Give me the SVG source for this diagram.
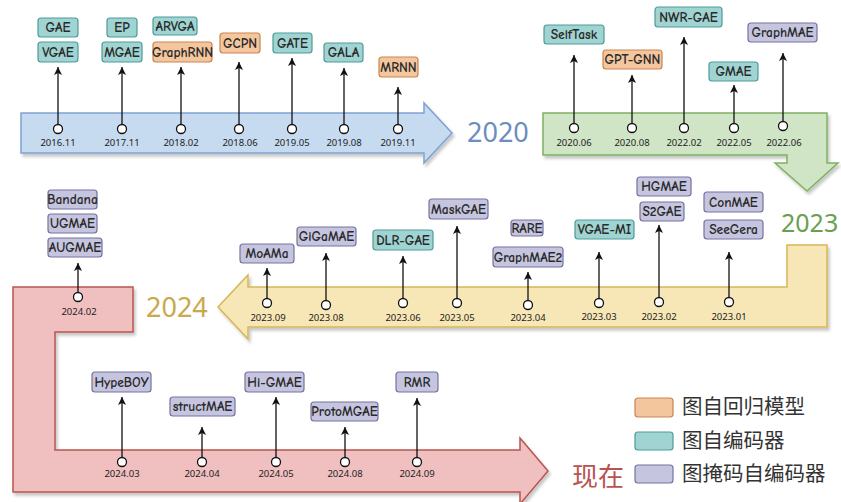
<svg xmlns="http://www.w3.org/2000/svg" width="841" height="502" viewBox="0 0 841 502">
<defs>
<style>
.lbl{font-family:'Comic Sans MS','Comic Neue','Noto Sans','DejaVu Sans',sans-serif;font-size:13.5px;font-weight:bold;fill:#2a2a2a;text-anchor:middle;dominant-baseline:central}
.date{font-family:'Noto Sans','DejaVu Sans',sans-serif;font-size:9.5px;fill:#222;text-anchor:middle}
.teal{fill:#9fd4d2;stroke:#4e9c9a;stroke-width:1.2}
.orange{fill:#f4c69e;stroke:#c98550;stroke-width:1.2}
.purple{fill:#c6c5e0;stroke:#76729f;stroke-width:1.2}
.dot{fill:#fff;stroke:#111;stroke-width:1.3}
.conn line{stroke:#111;stroke-width:1.3;marker-end:url(#ah)}
.year{font-family:'Noto Sans','DejaVu Sans',sans-serif}
.leg{font-family:'Noto Sans CJK SC','Noto Sans',sans-serif;font-size:20.5px;fill:#333}
</style>
<marker id="ah" viewBox="0 0 10 10" refX="10" refY="5" markerWidth="8" markerHeight="8" markerUnits="userSpaceOnUse" orient="auto">
<path d="M0,0 L10,5 L0,10 L2.5,5 z" fill="#111"/>
</marker>
<filter id="sh" x="-5%" y="-10%" width="115%" height="130%">
<feDropShadow dx="2" dy="3" stdDeviation="1.5" flood-color="#000" flood-opacity="0.22"/>
</filter>
</defs>

<g id="timeline-shapes">
<polygon id="band-2016" points="21,113 424,113 424,103 452,133 424,163 424,153 21,153" fill="#c6daf0" stroke="#7fa2cf" stroke-width="1.5" filter="url(#sh)"/>
<polygon id="band-2020" points="543,113 827,113 827,163 838,163 807,191 775,163 787,163 787,155 543,155" fill="#d0e5c6" stroke="#7fb062" stroke-width="1.5" filter="url(#sh)"/>
<polygon id="band-2023" points="218,307 248,275 248,287 787,287 787,245 827,245 827,327 248,327 248,339" fill="#f8e7b6" stroke="#d6b656" stroke-width="1.5" filter="url(#sh)"/>
<polygon id="band-2024" points="13,287 133,287 133,332 55,332 55,450 520,450 520,438 548,471 520,504 520,492 13,492" fill="#f0c0c1" stroke="#b85450" stroke-width="1.5" filter="url(#sh)"/>
</g>

<g id="years">
<text class="year" x="467" y="142" font-size="27" fill="#6c8ebf">2020</text>
<text class="year" x="781" y="232" font-size="25" fill="#6aa050">2023</text>
<text class="year" x="146" y="317" font-size="27" fill="#c9a84e">2024</text>
<text x="572" y="486" font-size="26" fill="#b85450" font-family="'Noto Sans CJK SC',sans-serif">现在</text>
</g>

<g id="connectors" class="conn">
<line x1="58" y1="124" x2="58" y2="67"/>
<line x1="122" y1="124" x2="122" y2="67"/>
<line x1="181" y1="124" x2="181" y2="67"/>
<line x1="239" y1="124" x2="239" y2="62"/>
<line x1="292" y1="124" x2="292" y2="58"/>
<line x1="344" y1="124" x2="344" y2="68"/>
<line x1="398" y1="124" x2="398" y2="87"/>
<line x1="574" y1="123" x2="574" y2="55"/>
<line x1="632" y1="123" x2="632" y2="75"/>
<line x1="684" y1="123" x2="684" y2="37"/>
<line x1="734" y1="123" x2="734" y2="85"/>
<line x1="783" y1="121" x2="783" y2="53"/>
<line x1="78" y1="292" x2="78" y2="263"/>
<line x1="267" y1="298" x2="267" y2="268"/>
<line x1="326" y1="300" x2="326" y2="253"/>
<line x1="403" y1="298" x2="403" y2="256"/>
<line x1="457" y1="298" x2="457" y2="226"/>
<line x1="528" y1="300" x2="528" y2="272"/>
<line x1="599" y1="298" x2="599" y2="252"/>
<line x1="659" y1="297" x2="659" y2="225"/>
<line x1="729" y1="297" x2="729" y2="252"/>
<line x1="122" y1="457" x2="122" y2="397"/>
<line x1="202" y1="457" x2="202" y2="427"/>
<line x1="276" y1="457" x2="276" y2="397"/>
<line x1="345" y1="457" x2="345" y2="427"/>
<line x1="417" y1="457" x2="417" y2="398"/>
</g>

<g id="dots">
<circle class="dot" cx="58" cy="129" r="4.5"/><circle class="dot" cx="122" cy="129" r="4.5"/><circle class="dot" cx="181" cy="129" r="4.5"/><circle class="dot" cx="239" cy="129" r="4.5"/><circle class="dot" cx="292" cy="129" r="4.5"/><circle class="dot" cx="344" cy="129" r="4.5"/><circle class="dot" cx="398" cy="129" r="4.5"/>
<circle class="dot" cx="574" cy="128" r="4.5"/><circle class="dot" cx="632" cy="128" r="4.5"/><circle class="dot" cx="684" cy="128" r="4.5"/><circle class="dot" cx="734" cy="128" r="4.5"/><circle class="dot" cx="783" cy="126" r="4.5"/>
<circle class="dot" cx="78" cy="297" r="4.5"/><circle class="dot" cx="267" cy="303" r="4.5"/><circle class="dot" cx="326" cy="305" r="4.5"/><circle class="dot" cx="403" cy="303" r="4.5"/><circle class="dot" cx="457" cy="303" r="4.5"/><circle class="dot" cx="528" cy="305" r="4.5"/><circle class="dot" cx="599" cy="303" r="4.5"/><circle class="dot" cx="659" cy="302" r="4.5"/><circle class="dot" cx="729" cy="302" r="4.5"/>
<circle class="dot" cx="122" cy="462" r="4.5"/><circle class="dot" cx="202" cy="462" r="4.5"/><circle class="dot" cx="276" cy="462" r="4.5"/><circle class="dot" cx="345" cy="462" r="4.5"/><circle class="dot" cx="417" cy="462" r="4.5"/>
</g>

<g id="dates">
<text class="date" x="58" y="146">2016.11</text><text class="date" x="122" y="146">2017.11</text><text class="date" x="181" y="146">2018.02</text><text class="date" x="240" y="146">2018.06</text><text class="date" x="292" y="146">2019.05</text><text class="date" x="344" y="146">2019.08</text><text class="date" x="398" y="146">2019.11</text>
<text class="date" x="574" y="146">2020.06</text><text class="date" x="632" y="146">2020.08</text><text class="date" x="684" y="146">2022.02</text><text class="date" x="734" y="146">2022.05</text><text class="date" x="784" y="146">2022.06</text>
<text class="date" x="79" y="315">2024.02</text><text class="date" x="268" y="321">2023.09</text><text class="date" x="326" y="321">2023.08</text><text class="date" x="403" y="321">2023.06</text><text class="date" x="457" y="321">2023.05</text><text class="date" x="528" y="321">2023.04</text><text class="date" x="599" y="320">2023.03</text><text class="date" x="659" y="320">2023.02</text><text class="date" x="729" y="320">2023.01</text>
<text class="date" x="122" y="477">2024.03</text><text class="date" x="202" y="477">2024.04</text><text class="date" x="276" y="477">2024.05</text><text class="date" x="345" y="477">2024.08</text><text class="date" x="417" y="477">2024.09</text>
</g>

<g id="n-GAE"><rect class="teal" x="38" y="18" width="40" height="19" rx="3"/><text class="lbl" x="58" y="27.5">GAE</text></g>
<g id="n-VGAE"><rect class="teal" x="38" y="42" width="40" height="20" rx="3"/><text class="lbl" x="58" y="52">VGAE</text></g>
<g id="n-EP"><rect class="teal" x="107" y="18" width="30" height="19" rx="3"/><text class="lbl" x="122" y="27.5">EP</text></g>
<g id="n-MGAE"><rect class="teal" x="102" y="42" width="40" height="20" rx="3"/><text class="lbl" x="122" y="52">MGAE</text></g>
<g id="n-ARVGA"><rect class="teal" x="153" y="17" width="44" height="18" rx="3"/><text class="lbl" x="175" y="26">ARVGA</text></g>
<g id="n-GraphRNN"><rect class="orange" x="153" y="42" width="59" height="20" rx="3"/><text class="lbl" x="182.5" y="52">GraphRNN</text></g>
<g id="n-GCPN"><rect class="orange" x="220" y="33" width="40" height="20" rx="3"/><text class="lbl" x="240" y="43">GCPN</text></g>
<g id="n-GATE"><rect class="teal" x="273" y="33" width="39" height="20" rx="3"/><text class="lbl" x="292.5" y="43">GATE</text></g>
<g id="n-GALA"><rect class="teal" x="324" y="43" width="39" height="19" rx="3"/><text class="lbl" x="343.5" y="52.5">GALA</text></g>
<g id="n-MRNN"><rect class="orange" x="379" y="57" width="39" height="20" rx="3"/><text class="lbl" x="398.5" y="67">MRNN</text></g>

<g id="n-SelfTask"><rect class="teal" x="544" y="25" width="60" height="19" rx="3"/><text class="lbl" x="574" y="34.5">SelfTask</text></g>
<g id="n-GPT-GNN"><rect class="orange" x="603" y="50" width="59" height="19" rx="3"/><text class="lbl" x="632.5" y="59.5">GPT-GNN</text></g>
<g id="n-NWR-GAE"><rect class="teal" x="655" y="7" width="67" height="20" rx="3"/><text class="lbl" x="688.5" y="17">NWR-GAE</text></g>
<g id="n-GMAE"><rect class="teal" x="709" y="62" width="49" height="19" rx="3"/><text class="lbl" x="733.5" y="71.5">GMAE</text></g>
<g id="n-GraphMAE"><rect class="purple" x="748" y="23" width="69" height="19" rx="3"/><text class="lbl" x="782.5" y="32.5">GraphMAE</text></g>

<g id="n-Bandana"><rect class="purple" x="48" y="190" width="49" height="19" rx="3"/><text class="lbl" x="72.5" y="199.5">Bandana</text></g>
<g id="n-UGMAE"><rect class="purple" x="48" y="214" width="49" height="19" rx="3"/><text class="lbl" x="72.5" y="223.5">UGMAE</text></g>
<g id="n-AUGMAE"><rect class="purple" x="48" y="238" width="54" height="19" rx="3"/><text class="lbl" x="75" y="247.5">AUGMAE</text></g>
<g id="n-MoAMa"><rect class="purple" x="240" y="244" width="54" height="19" rx="3"/><text class="lbl" x="267" y="253.5">MoAMa</text></g>
<g id="n-GiGaMAE"><rect class="purple" x="297" y="227" width="59" height="19" rx="3"/><text class="lbl" x="326.5" y="236.5">GiGaMAE</text></g>
<g id="n-DLR-GAE"><rect class="teal" x="373" y="230" width="60" height="20" rx="3"/><text class="lbl" x="403" y="240">DLR-GAE</text></g>
<g id="n-MaskGAE"><rect class="purple" x="429" y="199" width="59" height="20" rx="3"/><text class="lbl" x="458.5" y="209">MaskGAE</text></g>
<g id="n-RARE"><rect class="purple" x="511" y="220" width="32" height="16" rx="3"/><text class="lbl" x="527" y="228">RARE</text></g>
<g id="n-GraphMAE2"><rect class="purple" x="493" y="247" width="70" height="20" rx="3"/><text class="lbl" x="528" y="257">GraphMAE2</text></g>
<g id="n-VGAE-MI"><rect class="teal" x="575" y="220" width="59" height="19" rx="3"/><text class="lbl" x="604.5" y="229.5">VGAE-MI</text></g>
<g id="n-HGMAE"><rect class="purple" x="637" y="177" width="54" height="19" rx="3"/><text class="lbl" x="664" y="186.5">HGMAE</text></g>
<g id="n-S2GAE"><rect class="purple" x="640" y="202" width="44" height="19" rx="3"/><text class="lbl" x="662" y="211.5">S2GAE</text></g>
<g id="n-ConMAE"><rect class="purple" x="704" y="192" width="59" height="20" rx="3"/><text class="lbl" x="733.5" y="202">ConMAE</text></g>
<g id="n-SeeGera"><rect class="purple" x="704" y="220" width="59" height="19" rx="3"/><text class="lbl" x="733.5" y="229.5">SeeGera</text></g>

<g id="n-HypeBOY"><rect class="purple" x="92" y="372" width="59" height="20" rx="3"/><text class="lbl" x="121.5" y="382">HypeBOY</text></g>
<g id="n-structMAE"><rect class="purple" x="170" y="397" width="65" height="19" rx="3"/><text class="lbl" x="202.5" y="406.5">structMAE</text></g>
<g id="n-Hi-GMAE"><rect class="purple" x="245" y="372" width="59" height="20" rx="3"/><text class="lbl" x="274.5" y="382">Hi-GMAE</text></g>
<g id="n-ProtoMGAE"><rect class="purple" x="311" y="402" width="67" height="19" rx="3"/><text class="lbl" x="344.5" y="411.5">ProtoMGAE</text></g>
<g id="n-RMR"><rect class="purple" x="396" y="372" width="42" height="20" rx="3"/><text class="lbl" x="417" y="382">RMR</text></g>

<g id="legend">
<rect class="orange" x="635" y="398" width="38" height="19" rx="3"/>
<text class="leg" x="682" y="414">图自回归模型</text>
<rect class="teal" x="635" y="432" width="38" height="18" rx="3"/>
<text class="leg" x="682" y="448">图自编码器</text>
<rect class="purple" x="635" y="465" width="38" height="18" rx="3"/>
<text class="leg" x="682" y="481">图掩码自编码器</text>
</g>
</svg>
